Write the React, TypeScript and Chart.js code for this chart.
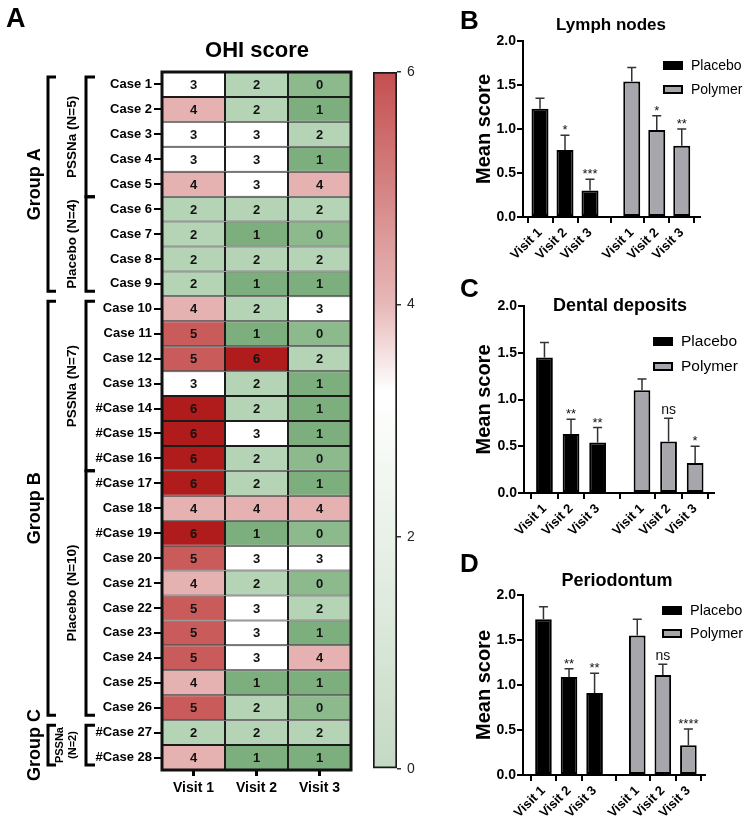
import React, { useEffect, useRef } from 'react';
import { Chart, registerables } from 'chart.js';

Chart.register(...registerables);

const FONT = "'Liberation Sans', Arial, Helvetica, sans-serif";
Chart.defaults.font.family = FONT;
Chart.defaults.color = '#000';

// ---------------- Panel A data ----------------
const CASES = [
  'Case 1', 'Case 2', 'Case 3', 'Case 4', 'Case 5', 'Case 6', 'Case 7', 'Case 8', 'Case 9',
  'Case 10', 'Case 11', 'Case 12', 'Case 13', '#Case 14', '#Case 15', '#Case 16', '#Case 17',
  'Case 18', '#Case 19', 'Case 20', 'Case 21', 'Case 22', 'Case 23', 'Case 24', 'Case 25',
  'Case 26', '#Case 27', '#Case 28',
];
const VISITS = ['Visit 1', 'Visit 2', 'Visit 3'];
const OHI_VISIT1 = [3, 4, 3, 3, 4, 2, 2, 2, 2, 4, 5, 5, 3, 6, 6, 6, 6, 4, 6, 5, 4, 5, 5, 5, 4, 5, 2, 4];
const OHI_VISIT2 = [2, 2, 3, 3, 3, 2, 1, 2, 1, 2, 1, 6, 2, 2, 3, 2, 2, 4, 1, 3, 2, 3, 3, 3, 1, 2, 2, 1];
const OHI_VISIT3 = [0, 1, 2, 1, 4, 2, 0, 2, 1, 3, 0, 2, 1, 1, 1, 0, 1, 4, 0, 3, 0, 2, 1, 4, 1, 0, 2, 1];
const COLORBAR_RANGE = [0, 6];
const COLORBAR_STEP = 2;

const GROUPS = [
  { label: ['Group A'], from: 0, to: 8 },
  { label: ['Group B'], from: 9, to: 25 },
  { label: ['Group C'], from: 26, to: 27 },
];
const SUBGROUPS = [
  { label: ['PSSNa (N=5)'], from: 0, to: 4 },
  { label: ['Placebo (N=4)'], from: 5, to: 8 },
  { label: ['PSSNa (N=7)'], from: 9, to: 15 },
  { label: ['Placebo (N=10)'], from: 16, to: 25 },
  { label: ['PSSNa', '(N=2)'], from: 26, to: 27 },
];

// ---------------- Panels B–D data ----------------
const SERIES = ['Placebo', 'Polymer'];
const Y_MIN = 0;
const Y_MAX = 2;
const Y_STEP = 0.5;

const LYMPH_PLACEBO_MEAN = [1.23, 0.76, 0.3];
const LYMPH_PLACEBO_SEM = [0.12, 0.17, 0.13];
const LYMPH_PLACEBO_SIG = ['', '*', '***'];
const LYMPH_POLYMER_MEAN = [1.54, 0.99, 0.81];
const LYMPH_POLYMER_SEM = [0.16, 0.16, 0.19];
const LYMPH_POLYMER_SIG = ['', '*', '**'];

const DENTAL_PLACEBO_MEAN = [1.45, 0.63, 0.54];
const DENTAL_PLACEBO_SEM = [0.16, 0.16, 0.16];
const DENTAL_PLACEBO_SIG = ['', '**', '**'];
const DENTAL_POLYMER_MEAN = [1.1, 0.55, 0.32];
const DENTAL_POLYMER_SEM = [0.12, 0.25, 0.18];
const DENTAL_POLYMER_SIG = ['', 'ns', '*'];

const PERIO_PLACEBO_MEAN = [1.73, 1.09, 0.91];
const PERIO_PLACEBO_SEM = [0.14, 0.09, 0.22];
const PERIO_PLACEBO_SIG = ['', '**', '**'];
const PERIO_POLYMER_MEAN = [1.55, 1.11, 0.33];
const PERIO_POLYMER_SEM = [0.18, 0.12, 0.18];
const PERIO_POLYMER_SIG = ['', 'ns', '****'];

// ---------------- Styles ----------------
const HEAT_COLORS = ['#8cba8c', '#7dae7d', '#b5d4b5', '#ffffff', '#e6b1b1', '#c95b5b', '#b01b1b'];
const COLORBAR_STOPS: [number, string][] = [
  [0, '#c4d9c3'], [2, '#e9f1e8'], [3.25, '#ffffff'], [4, '#e7b8b8'], [6, '#c44f4f'],
];
const PLACEBO_COLOR = '#000000';
const POLYMER_COLOR = '#a6a6ac';
const GROUP_GAP = 1.67;

type TextItem = { text: string; x: number; y: number; size: number; bold?: boolean; align?: CanvasTextAlign; rotate?: number };

function textPlugin(items: TextItem[]) {
  return {
    id: 'texts',
    afterDraw(chart: any) {
      const ctx = chart.ctx;
      items.forEach((t) => {
        ctx.save();
        ctx.font = `${t.bold ? 'bold ' : ''}${t.size}px ${FONT}`;
        ctx.fillStyle = '#000';
        ctx.textAlign = t.align || 'left';
        ctx.textBaseline = 'alphabetic';
        ctx.translate(t.x, t.y);
        if (t.rotate) ctx.rotate(t.rotate);
        ctx.fillText(t.text, 0, 0);
        ctx.restore();
      });
    },
  };
}

// ---------------- Heatmap ----------------
function heatmapConfig(): any {
  const scores = [OHI_VISIT1, OHI_VISIT2, OHI_VISIT3];
  const cellText = {
    id: 'cellText',
    afterDatasetsDraw(chart: any) {
      const ctx = chart.ctx;
      const ca = chart.chartArea;
      ctx.save();
      ctx.font = `bold 13px ${FONT}`;
      ctx.fillStyle = '#111';
      ctx.textAlign = 'center';
      ctx.textBaseline = 'middle';
      scores.forEach((arr, di) => {
        const meta = chart.getDatasetMeta(di);
        meta.data.forEach((el: any, i: number) => {
          const p = el.getCenterPoint();
          ctx.fillText(String(arr[i]), p.x, p.y + 1);
        });
      });
      ctx.strokeStyle = '#111';
      ctx.lineWidth = 3;
      ctx.strokeRect(ca.left, ca.top, ca.right - ca.left, ca.bottom - ca.top);
      ctx.restore();
    },
  };
  const brackets = {
    id: 'brackets',
    afterDraw(chart: any) {
      const ctx = chart.ctx;
      const y = chart.scales.y;
      const half = Math.abs(y.getPixelForValue(1) - y.getPixelForValue(0)) / 2;
      const edge = (i: number, side: number) => y.getPixelForValue(i) + side * half;
      const INSET = 5;
      ctx.save();
      ctx.strokeStyle = '#000';
      ctx.fillStyle = '#000';
      ctx.lineWidth = 3;
      ctx.lineJoin = 'miter';
      const draw = (x: number, hook: number, t: number, b: number) => {
        ctx.beginPath();
        ctx.moveTo(x + hook, t);
        ctx.lineTo(x, t);
        ctx.lineTo(x, b);
        ctx.lineTo(x + hook, b);
        ctx.stroke();
      };
      const label = (lines: string[], baseX: number, cy: number, size: number, lineGap: number) => {
        lines.forEach((ln, k) => {
          ctx.save();
          ctx.font = `bold ${size}px ${FONT}`;
          ctx.textAlign = 'center';
          ctx.textBaseline = 'alphabetic';
          ctx.translate(baseX - (lines.length - 1 - k) * lineGap, cy);
          ctx.rotate(-Math.PI / 2);
          ctx.fillText(ln, 0, 0);
          ctx.restore();
        });
      };
      GROUPS.forEach((g) => {
        const t = edge(g.from, -1) + INSET;
        const b = edge(g.to, 1) - INSET;
        draw(48, 8, t, b);
        label(g.label, 39.5, (t + b) / 2, 18, 18);
      });
      SUBGROUPS.forEach((s) => {
        const startsGroup = GROUPS.some((g) => g.from === s.from);
        const endsGroup = GROUPS.some((g) => g.to === s.to);
        const t = edge(s.from, -1) + (startsGroup ? INSET : 0);
        const b = edge(s.to, 1) - (endsGroup ? INSET : 0);
        draw(86, 9, t, b);
        if (s.label.length > 1) label(s.label, 75.5, (t + b) / 2, 11, 12.5);
        else label(s.label, 76, (t + b) / 2, 13.5, 14);
      });
      ctx.restore();
    },
  };
  return {
    type: 'bar',
    data: {
      labels: CASES,
      datasets: scores.map((arr, vi) => ({
        label: VISITS[vi],
        data: arr.map(() => 1),
        backgroundColor: arr.map((s) => HEAT_COLORS[s]),
        borderColor: '#1c1c1c',
        borderWidth: 1,
        borderSkipped: false,
        barPercentage: 1,
        categoryPercentage: 1,
        inflateAmount: 0,
      })),
    },
    options: {
      indexAxis: 'y',
      responsive: false,
      animation: false,
      events: [],
      layout: { padding: { left: 0, right: 9, top: 72, bottom: 0 } },
      plugins: { legend: { display: false }, tooltip: { enabled: false } },
      scales: {
        x: {
          stacked: true,
          min: 0,
          max: VISITS.length,
          afterBuildTicks: (s: any) => {
            s.ticks = VISITS.map((_, i) => ({ value: i + 0.5 }));
          },
          ticks: {
            callback: (_v: any, i: number) => VISITS[i],
            font: { size: 14, weight: 'bold' },
            color: '#000',
            padding: 4,
            autoSkip: false,
            maxRotation: 0,
            minRotation: 0,
          },
          grid: { drawOnChartArea: false, drawTicks: true, tickLength: 6, color: '#000', lineWidth: 3 },
          border: { display: false },
          afterFit: (s: any) => { s.height = 54; },
        },
        y: {
          stacked: true,
          ticks: { font: { size: 13, weight: 'bold' }, color: '#000', padding: 2, autoSkip: false },
          grid: { drawOnChartArea: false, offset: false, drawTicks: true, tickLength: 8, color: '#000', lineWidth: 2 },
          border: { display: false },
          afterFit: (s: any) => { s.width = 162; },
        },
      },
    },
    plugins: [
      cellText,
      brackets,
      textPlugin([
        { text: 'A', x: 6, y: 27, size: 27, bold: true },
        { text: 'OHI score', x: 257, y: 57, size: 22, bold: true, align: 'center' },
      ]),
    ],
  };
}

// ---------------- Colour bar ----------------
function colorbarConfig(): any {
  const [lo, hi] = COLORBAR_RANGE;
  return {
    type: 'bar',
    data: {
      labels: ['OHI'],
      datasets: [{
        data: [[lo, hi]],
        backgroundColor: (c: any) => {
          const chart = c.chart;
          if (!chart.chartArea) return '#fff';
          const ys = chart.scales.y;
          const g = chart.ctx.createLinearGradient(0, ys.getPixelForValue(lo), 0, ys.getPixelForValue(hi));
          COLORBAR_STOPS.forEach(([v, col]) => g.addColorStop((v - lo) / (hi - lo), col));
          return g;
        },
        borderColor: '#1a1a1a',
        borderWidth: 2,
        borderSkipped: false,
        barPercentage: 1,
        categoryPercentage: 1,
      }],
    },
    options: {
      responsive: false,
      animation: false,
      events: [],
      layout: { padding: { left: 13, right: 0, top: 72, bottom: 55 } },
      plugins: { legend: { display: false }, tooltip: { enabled: false } },
      scales: {
        x: { display: false },
        y: {
          position: 'right',
          min: lo,
          max: hi,
          ticks: { stepSize: COLORBAR_STEP, font: { size: 14 }, color: '#222', padding: 6 },
          grid: { drawOnChartArea: false, drawTicks: true, tickLength: 4, color: '#333', lineWidth: 1.5 },
          border: { display: false },
          afterFit: (s: any) => { s.width = 53; },
        },
      },
    },
  };
}

// ---------------- Bar panels ----------------
type Panel = {
  letter: string; title: string;
  placeboMean: number[]; placeboSem: number[]; placeboSig: string[];
  polymerMean: number[]; polymerSem: number[]; polymerSig: string[];
  w: number; h: number; left: number; right: number; top: number; bottom: number;
  xMin: number; xMax: number; barPct: number;
  letterPos: [number, number]; titlePos: [number, number]; titleSize: number;
  legend: { x: number; y: number; gap: number; size: number };
};

function barConfig(p: Panel): any {
  const n = VISITS.length;
  const xs = [...VISITS.map((_, i) => i), ...VISITS.map((_, i) => i + n - 1 + GROUP_GAP)];
  const means = [...p.placeboMean, ...p.polymerMean];
  const sems = [...p.placeboSem, ...p.polymerSem];
  const sigs = [...p.placeboSig, ...p.polymerSig];
  const tickLabels = [...VISITS, ...VISITS];
  const colors = [...VISITS.map(() => PLACEBO_COLOR), ...VISITS.map(() => POLYMER_COLOR)];
  const seriesColors = [PLACEBO_COLOR, POLYMER_COLOR];

  const errPlugin = {
    id: 'errs',
    afterDatasetsDraw(chart: any) {
      const ctx = chart.ctx;
      const ys = chart.scales.y;
      const meta = chart.getDatasetMeta(0);
      ctx.save();
      meta.data.forEach((bar: any, i: number) => {
        const top = ys.getPixelForValue(means[i] + sems[i]);
        ctx.strokeStyle = '#333';
        ctx.lineWidth = 1.5;
        ctx.beginPath();
        ctx.moveTo(bar.x, bar.y);
        ctx.lineTo(bar.x, top);
        ctx.moveTo(bar.x - 4.5, top);
        ctx.lineTo(bar.x + 4.5, top);
        ctx.stroke();
        const s = sigs[i];
        if (s) {
          const ns = s === 'ns';
          ctx.fillStyle = '#111';
          ctx.font = `${ns ? 14 : 13}px ${FONT}`;
          ctx.textAlign = 'center';
          ctx.textBaseline = 'alphabetic';
          ctx.fillText(s, bar.x, top - (ns ? 4 : 1));
        }
      });
      ctx.restore();
    },
  };
  const legendPlugin = {
    id: 'legendBox',
    afterDraw(chart: any) {
      const ctx = chart.ctx;
      const L = p.legend;
      ctx.save();
      SERIES.forEach((name, k) => {
        const ly = L.y + k * L.gap;
        ctx.fillStyle = seriesColors[k];
        ctx.fillRect(L.x, ly, 20, 9);
        ctx.strokeStyle = '#000';
        ctx.lineWidth = 2;
        ctx.strokeRect(L.x + 1, ly + 1, 18, 7);
        ctx.fillStyle = '#000';
        ctx.font = `${L.size}px ${FONT}`;
        ctx.textAlign = 'left';
        ctx.textBaseline = 'middle';
        ctx.fillText(name, L.x + 28, ly + 5);
      });
      ctx.restore();
    },
  };

  return {
    type: 'bar',
    data: {
      datasets: [{
        label: p.title,
        data: xs.map((x, i) => ({ x, y: means[i] })),
        backgroundColor: colors,
        borderColor: '#000',
        borderWidth: 2,
        borderSkipped: false,
        barPercentage: p.barPct,
        categoryPercentage: 1,
      }],
    },
    options: {
      responsive: false,
      animation: false,
      events: [],
      layout: { padding: { left: 0, right: p.w - p.right, top: p.top, bottom: 0 } },
      plugins: { legend: { display: false }, tooltip: { enabled: false } },
      scales: {
        x: {
          type: 'linear',
          min: p.xMin,
          max: p.xMax,
          offset: false,
          afterBuildTicks: (s: any) => { s.ticks = xs.map((v) => ({ value: v })); },
          ticks: {
            callback: (_v: any, i: number) => tickLabels[i],
            autoSkip: false,
            minRotation: 45,
            maxRotation: 45,
            font: { size: 13, weight: 'bold' },
            color: '#000',
            padding: 2,
          },
          grid: { drawOnChartArea: false, drawTicks: true, tickLength: 6, color: '#000', lineWidth: 2 },
          border: { display: true, color: '#000', width: 2 },
          afterFit: (s: any) => { s.height = p.h - p.bottom; },
        },
        y: {
          min: Y_MIN,
          max: Y_MAX,
          ticks: {
            stepSize: Y_STEP,
            callback: (v: any) => Number(v).toFixed(1),
            font: { size: 14, weight: 'bold' },
            color: '#000',
            padding: 1,
          },
          grid: { drawOnChartArea: false, drawTicks: true, tickLength: 6, color: '#000', lineWidth: 2 },
          border: { display: true, color: '#000', width: 2 },
          title: {
            display: true,
            text: 'Mean score',
            font: { size: 20, weight: 'bold' },
            color: '#000',
            padding: { top: 22, bottom: 0 },
          },
          afterFit: (s: any) => { s.width = p.left; },
        },
      },
    },
    plugins: [
      errPlugin,
      legendPlugin,
      textPlugin([
        { text: p.letter, x: p.letterPos[0], y: p.letterPos[1], size: 26, bold: true },
        { text: p.title, x: p.titlePos[0], y: p.titlePos[1], size: p.titleSize, bold: true, align: 'center' },
      ]),
    ],
  };
}

const PANEL_B: Panel = {
  letter: 'B', title: 'Lymph nodes',
  placeboMean: LYMPH_PLACEBO_MEAN, placeboSem: LYMPH_PLACEBO_SEM, placeboSig: LYMPH_PLACEBO_SIG,
  polymerMean: LYMPH_POLYMER_MEAN, polymerSem: LYMPH_POLYMER_SEM, polymerSig: LYMPH_POLYMER_SIG,
  w: 300, h: 270, left: 73, right: 250, top: 41, bottom: 217,
  xMin: -0.68, xMax: 6.4, barPct: 0.68,
  letterPos: [10, 29], titlePos: [161, 30], titleSize: 17,
  legend: { x: 213, y: 61, gap: 24, size: 14 },
};
const PANEL_C: Panel = {
  letter: 'C', title: 'Dental deposits',
  placeboMean: DENTAL_PLACEBO_MEAN, placeboSem: DENTAL_PLACEBO_SEM, placeboSig: DENTAL_PLACEBO_SIG,
  polymerMean: DENTAL_POLYMER_MEAN, polymerSem: DENTAL_POLYMER_SEM, polymerSig: DENTAL_POLYMER_SIG,
  w: 300, h: 270, left: 74, right: 264, top: 36, bottom: 223,
  xMin: -0.77, xMax: 6.38, barPct: 0.63,
  letterPos: [10, 27], titlePos: [170, 41], titleSize: 18,
  legend: { x: 203, y: 67, gap: 25, size: 15.5 },
};
const PANEL_D: Panel = {
  letter: 'D', title: 'Periodontum',
  placeboMean: PERIO_PLACEBO_MEAN, placeboSem: PERIO_PLACEBO_SEM, placeboSig: PERIO_PLACEBO_SIG,
  polymerMean: PERIO_POLYMER_MEAN, polymerSem: PERIO_POLYMER_SEM, polymerSig: PERIO_POLYMER_SIG,
  w: 300, h: 284, left: 73, right: 255, top: 55, bottom: 235,
  xMin: -0.8, xMax: 6.32, barPct: 0.65,
  letterPos: [10, 32], titlePos: [167, 46], titleSize: 18,
  legend: { x: 212, y: 66, gap: 23, size: 14.5 },
};

function ChartCanvas(props: { left: number; top: number; width: number; height: number; make: () => any }) {
  const ref = useRef<HTMLCanvasElement>(null);
  useEffect(() => {
    if (!ref.current) return;
    const chart = new Chart(ref.current, props.make());
    return () => chart.destroy();
  }, []);
  return (
    <canvas
      ref={ref}
      width={props.width}
      height={props.height}
      style={{ position: 'absolute', left: props.left, top: props.top, width: props.width, height: props.height }}
    />
  );
}

export default function App() {
  return (
    <div style={{ position: 'absolute', left: 0, top: 0, width: 750, height: 824, background: '#fff', overflow: 'hidden' }}>
      <ChartCanvas left={0} top={0} width={360} height={824} make={heatmapConfig} />
      <ChartCanvas left={360} top={0} width={90} height={824} make={colorbarConfig} />
      <ChartCanvas left={450} top={0} width={300} height={270} make={() => barConfig(PANEL_B)} />
      <ChartCanvas left={450} top={270} width={300} height={270} make={() => barConfig(PANEL_C)} />
      <ChartCanvas left={450} top={540} width={300} height={284} make={() => barConfig(PANEL_D)} />
    </div>
  );
}
